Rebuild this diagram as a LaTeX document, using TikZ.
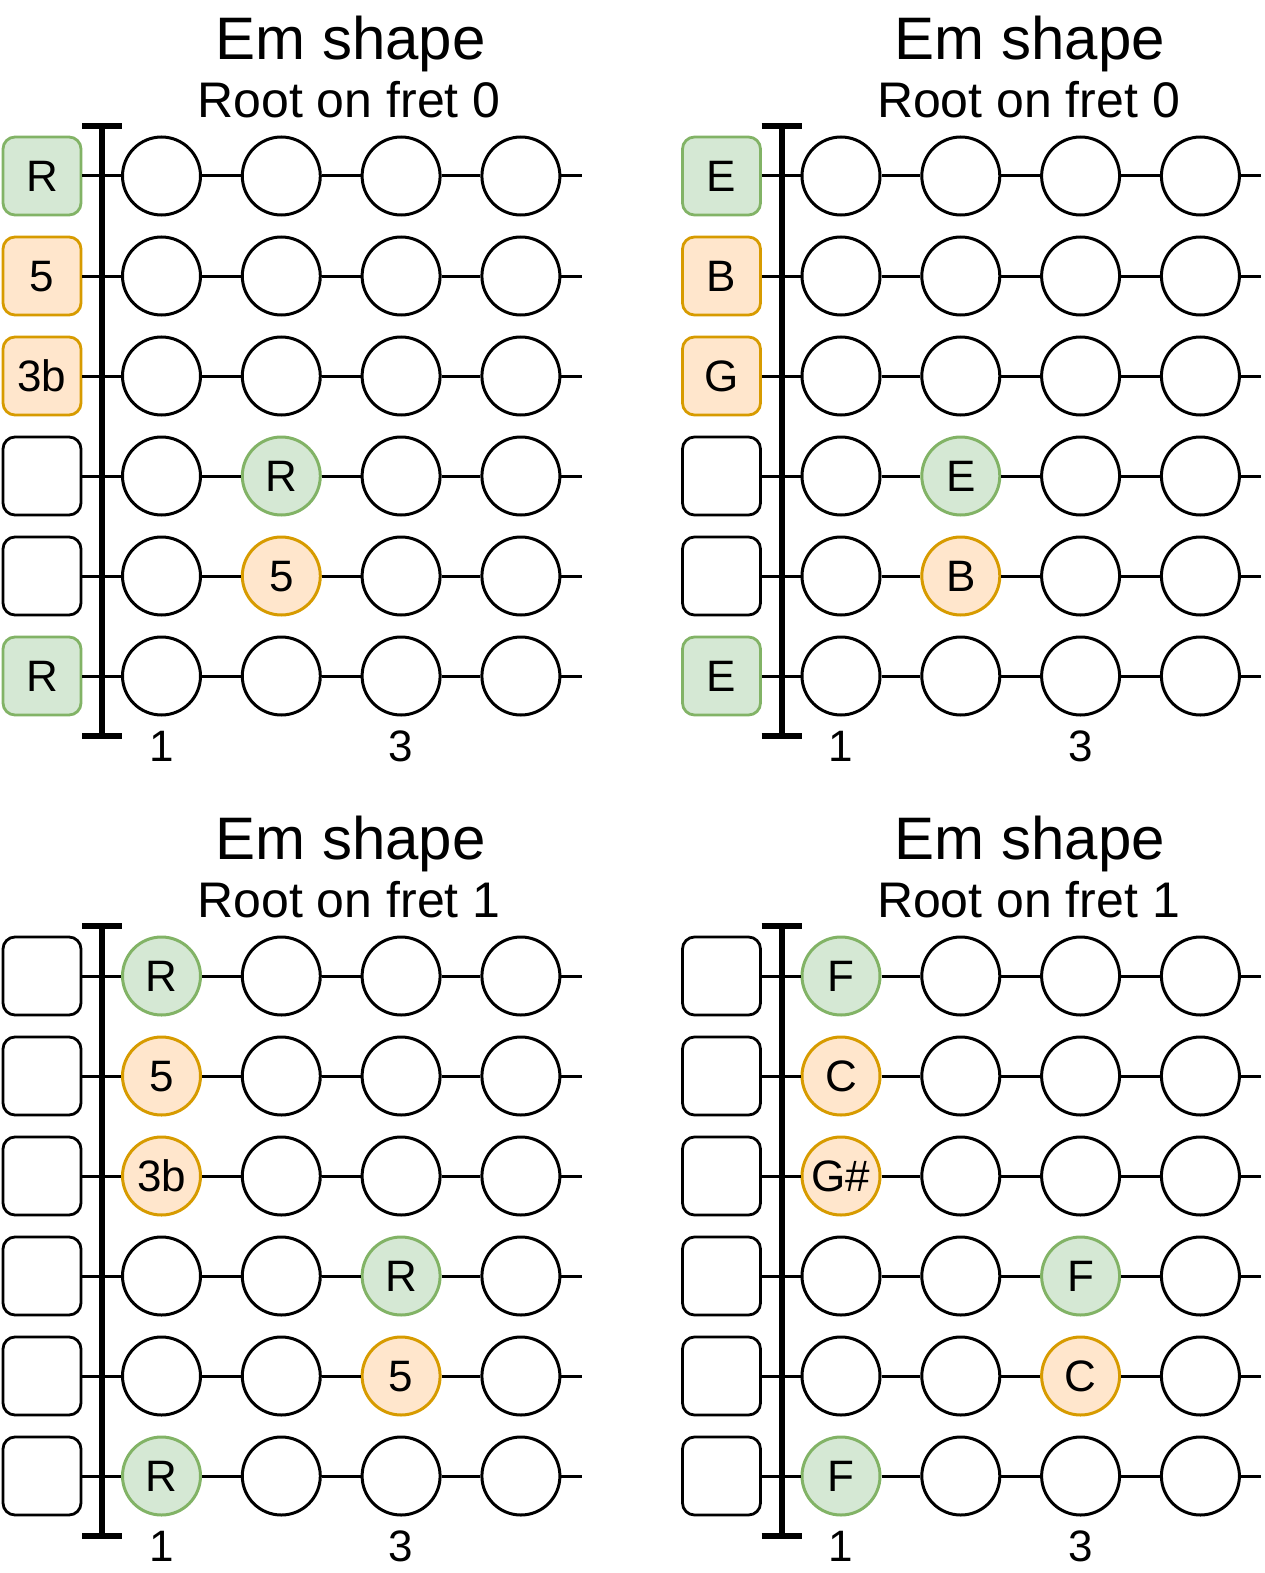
\documentclass[tikz,border=0pt]{standalone}
\usepackage{fontspec}
\setmainfont{Liberation Sans}
\definecolor{gfill}{HTML}{D5E8D4}
\definecolor{gline}{HTML}{82B366}
\definecolor{ofill}{HTML}{FFE6CC}
\definecolor{oline}{HTML}{D79B00}
\tikzset{
  cell/.style={inner sep=0pt, font=\fontsize{22}{22}\selectfont, text height=15.75pt, text depth=0pt},
  sq/.style={cell, draw=black, fill=white, line width=1.4pt, rounded corners=6pt, minimum size=39pt},
  sqg/.style={sq, draw=gline, fill=gfill},
  sqo/.style={sq, draw=oline, fill=ofill},
  fc/.style={cell, circle, draw=black, fill=white, line width=1.5pt, minimum size=39pt},
  fcg/.style={fc, draw=gline, fill=gfill},
  fco/.style={fc, draw=oline, fill=ofill},
  strg/.style={line width=1.5pt},
  barline/.style={line width=3pt},
  ttl/.style={anchor=base, inner sep=0pt, font=\fontsize{30}{36}\selectfont},
  subttl/.style={anchor=base, inner sep=0pt, font=\fontsize{25}{30}\selectfont},
  fretlbl/.style={inner sep=0pt, font=\fontsize{22}{22}\selectfont, text height=15.75pt, text depth=0pt}
}
\newcommand\frow[4]{%
  \foreach \s/\t [count=\c] in {#4} {
    \pgfmathsetmacro\xx{\c==1 ? 42 : 161.5+119.8*(\c-2)}
    \node[\s] (#1-#2-\c) at (\xx,#3) {\t};
  }
  \coordinate (#1-#2-e) at (581.5,#3);
  \draw[strg] (#1-#2-1) -- (#1-#2-2) -- (#1-#2-3) -- (#1-#2-4) -- (#1-#2-5) -- (#1-#2-e);
}
\newcommand\fframe[2]{%
  \coordinate (#1-bt) at (102,126);
  \coordinate (#1-bb) at (102,736);
  \draw[barline] (#1-bt) -- (#1-bb);
  \draw[barline] ([xshift=-10pt]#1-bt) -- ([xshift=10pt]#1-bt);
  \draw[barline] ([xshift=-10pt]#1-bb) -- ([xshift=10pt]#1-bb);
  \node[fretlbl] (#1-f1) at (161.5,746) {1};
  \node[fretlbl] (#1-f3) at (401.1,746) {3};
  \node[ttl] (#1-title) at (350.5,59.5) {Em shape};
  \node[subttl] (#1-sub) at (349,117.5) {Root on fret #2};
}
\begin{document}
\begin{tikzpicture}[x=0.5pt,y=-0.5pt]
\useasboundingbox (0,0) rectangle (1264,1573);
% top left
\begin{scope}
  \frow{a}{1}{176}{sqg/R, fc/{}, fc/{}, fc/{}, fc/{}}
  \frow{a}{2}{276}{sqo/5, fc/{}, fc/{}, fc/{}, fc/{}}
  \frow{a}{3}{376}{sqo/3b, fc/{}, fc/{}, fc/{}, fc/{}}
  \frow{a}{4}{476}{sq/{}, fc/{}, fcg/R, fc/{}, fc/{}}
  \frow{a}{5}{576}{sq/{}, fc/{}, fco/5, fc/{}, fc/{}}
  \frow{a}{6}{676}{sqg/R, fc/{}, fc/{}, fc/{}, fc/{}}
  \fframe{a}{0}
\end{scope}
% top right
\begin{scope}[shift={(679.5,0)}]
  \frow{b}{1}{176}{sqg/E, fc/{}, fc/{}, fc/{}, fc/{}}
  \frow{b}{2}{276}{sqo/B, fc/{}, fc/{}, fc/{}, fc/{}}
  \frow{b}{3}{376}{sqo/G, fc/{}, fc/{}, fc/{}, fc/{}}
  \frow{b}{4}{476}{sq/{}, fc/{}, fcg/E, fc/{}, fc/{}}
  \frow{b}{5}{576}{sq/{}, fc/{}, fco/B, fc/{}, fc/{}}
  \frow{b}{6}{676}{sqg/E, fc/{}, fc/{}, fc/{}, fc/{}}
  \fframe{b}{0}
\end{scope}
% bottom left
\begin{scope}[shift={(0,800)}]
  \frow{c}{1}{176}{sq/{}, fcg/R, fc/{}, fc/{}, fc/{}}
  \frow{c}{2}{276}{sq/{}, fco/5, fc/{}, fc/{}, fc/{}}
  \frow{c}{3}{376}{sq/{}, fco/3b, fc/{}, fc/{}, fc/{}}
  \frow{c}{4}{476}{sq/{}, fc/{}, fc/{}, fcg/R, fc/{}}
  \frow{c}{5}{576}{sq/{}, fc/{}, fc/{}, fco/5, fc/{}}
  \frow{c}{6}{676}{sq/{}, fcg/R, fc/{}, fc/{}, fc/{}}
  \fframe{c}{1}
\end{scope}
% bottom right
\begin{scope}[shift={(679.5,800)}]
  \frow{d}{1}{176}{sq/{}, fcg/F, fc/{}, fc/{}, fc/{}}
  \frow{d}{2}{276}{sq/{}, fco/C, fc/{}, fc/{}, fc/{}}
  \frow{d}{3}{376}{sq/{}, fco/G\#, fc/{}, fc/{}, fc/{}}
  \frow{d}{4}{476}{sq/{}, fc/{}, fc/{}, fcg/F, fc/{}}
  \frow{d}{5}{576}{sq/{}, fc/{}, fc/{}, fco/C, fc/{}}
  \frow{d}{6}{676}{sq/{}, fcg/F, fc/{}, fc/{}, fc/{}}
  \fframe{d}{1}
\end{scope}
\end{tikzpicture}
\end{document}
